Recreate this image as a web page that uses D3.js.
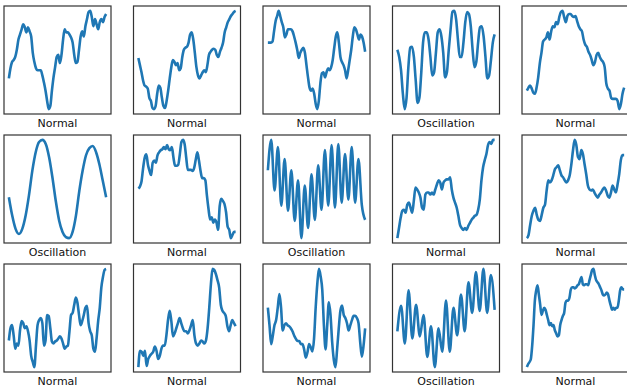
<!DOCTYPE html>
<html>
<head>
<meta charset="utf-8">
<script src="https://cdn.jsdelivr.net/npm/d3@7"></script>
<style>
  html, body { margin: 0; padding: 0; background: #fff; }
  svg { display: block; }
</style>
</head>
<body>
<svg id="chart" width="627" height="390"></svg>
<script>
// panel titles, row by row
const titles = [
  "Normal", "Normal", "Normal", "Oscillation", "Normal",
  "Oscillation", "Normal", "Oscillation", "Normal", "Normal",
  "Normal", "Normal", "Normal", "Oscillation", "Normal"
];

// series (arbitrary units)
const s1 = [37,47,53,55,58,65,75,80,85,90,87,82,87,83,78,62,53,47,45,45,45,40,33,25,15,7,10,25,38,48,58,60,52,60,75,85,82,82,80,77,72,60,52,53,65,78,83,78,88,95,102,103,97,88,95,90,85,92,95,92,97,100];
const s2 = [57,50,43,35,30,29,27,18,15,8,7,10,22,30,28,18,10,8,15,25,37,48,55,53,50,52,45,47,58,65,67,68,72,80,82,75,62,48,40,37,40,43,45,43,50,60,63,65,66,65,60,58,63,67,72,82,87,92,95,98,100,102,103];
const s3 = [72,72,72,73,83,93,98,103,98,92,87,77,80,85,85,85,83,78,72,65,57,62,65,67,62,50,38,28,25,27,22,12,7,15,32,42,43,38,43,47,45,48,55,67,78,82,72,58,53,50,45,37,45,55,65,78,87,85,80,75,80,78,72,63];
const s4 = [65,58,45,22,7,18,48,67,68,58,35,13,18,42,72,82,82,75,58,40,43,62,82,85,78,62,38,43,65,85,102,103,95,75,58,58,72,92,102,100,88,65,48,53,72,87,88,78,58,37,40,55,72,80];
const s5 = [25,28,30,27,23,22,28,38,52,62,73,75,77,82,75,83,88,87,92,90,97,102,103,97,92,98,100,100,98,97,98,93,88,85,83,75,70,68,63,60,55,50,53,60,62,58,55,53,48,32,27,25,18,17,17,17,15,7,12,22,28];

const s6 = [47,29,16,11,16,29,49,73,91,101,103,99,86,66,43,24,13,8,7,13,29,53,73,88,95,97,91,79,63,47];
const s7 = [56,58,63,76,86,89,79,73,69,81,83,81,88,91,93,94,96,94,98,94,93,96,86,78,78,79,89,101,103,99,86,74,74,74,73,76,84,91,83,73,66,66,64,49,36,26,28,23,26,23,16,39,46,44,41,33,19,16,8,11,14,14];
const s8 = [73,103,53,96,38,84,33,73,23,63,6,58,16,69,24,78,34,93,38,98,36,99,41,89,44,96,41,84,39,24];
const s9 = [6,16,26,33,34,31,39,41,36,31,43,56,54,51,46,36,34,49,51,51,49,51,49,54,59,63,61,54,61,63,64,64,66,54,46,41,36,28,19,16,14,16,14,18,21,24,26,28,29,34,44,63,76,83,89,98,101,99,103,103];
const s10 = [6,9,19,28,33,36,29,24,23,29,36,39,53,63,61,63,68,74,76,78,73,68,66,63,61,63,68,79,93,103,98,86,84,93,89,79,69,58,54,53,54,51,48,46,49,51,54,56,53,48,46,51,58,54,51,59,69,83,88,88];

const s11 = [33,45,48,38,25,30,28,43,52,50,45,47,42,33,18,12,7,28,48,53,55,50,28,33,58,57,45,32,30,32,33,35,37,35,30,25,27,28,42,58,60,68,75,70,58,48,52,58,65,67,50,42,38,25,22,35,52,65,85,95,102,103];
const s12 = [7,23,22,18,23,8,15,18,20,22,27,23,15,18,25,28,28,38,53,62,52,37,40,45,50,55,50,45,42,42,40,43,48,53,38,30,28,30,33,32,30,33,45,65,88,103,102,98,92,85,68,62,60,57,47,42,48,53,50,47];
const s13 = [65,48,30,38,48,53,65,78,65,43,48,50,48,47,45,42,38,35,33,33,30,30,25,17,22,30,27,23,35,65,88,102,95,82,48,25,48,70,58,32,15,8,25,45,62,67,58,55,50,43,48,53,57,57,55,50,32,18,28,45];
const s14 = [42,67,30,82,35,68,37,58,17,47,7,45,22,72,22,65,38,78,42,90,60,100,62,103,60,97,63];
const s15 = [7,10,12,15,28,48,72,82,87,78,68,58,62,65,63,58,53,48,50,47,48,43,40,37,38,48,53,57,60,70,72,72,75,83,85,85,84,85,87,88,92,95,88,87,88,88,87,92,97,102,103,97,92,90,88,85,82,78,77,78,80,78,72,67,63,65,63,65,65,72,82,85,83,83];

const series = [s1, s2, s3, s4, s5, s6, s7, s8, s9, s10, s11, s12, s13, s14, s15];

const cols = 5;
const boxW = 107, boxH = 108;
const colX = d3.scaleLinear().domain([0, 1]).range([4, 133.5]);
const rowY = d3.scaleLinear().domain([0, 1]).range([6, 135]);

const svg = d3.select("#chart");

series.forEach((vals, i) => {
  const c = i % cols, r = Math.floor(i / cols);
  const g = svg.append("g")
    .attr("transform", "translate(" + colX(c) + "," + rowY(r) + ")");

  // matplotlib-like 5% margins
  const n = vals.length - 1;
  const x = d3.scaleLinear().domain([-0.05 * n, 1.05 * n]).range([0, boxW]);
  const [lo, hi] = d3.extent(vals);
  const pad = (hi - lo) * 0.05;
  const y = d3.scaleLinear().domain([lo - pad, hi + pad]).range([boxH, 0]);

  const line = d3.line()
    .x((d, j) => x(j))
    .y(d => y(d))
    .curve(d3.curveMonotoneX);

  g.append("path")
    .datum(vals)
    .attr("d", line)
    .attr("fill", "none")
    .attr("stroke", "#1f77b4")
    .attr("stroke-width", 2.6)
    .attr("stroke-linejoin", "round");

  g.append("rect")
    .attr("x", 0).attr("y", 0)
    .attr("width", boxW).attr("height", boxH)
    .attr("fill", "none")
    .attr("stroke", "#333")
    .attr("stroke-width", 1.2);

  g.append("text")
    .attr("x", boxW / 2)
    .attr("y", boxH + 13)
    .attr("text-anchor", "middle")
    .attr("font-family", "DejaVu Sans, sans-serif")
    .attr("font-size", 11)
    .attr("fill", "#111")
    .text(titles[i]);
});
</script>
</body>
</html>
